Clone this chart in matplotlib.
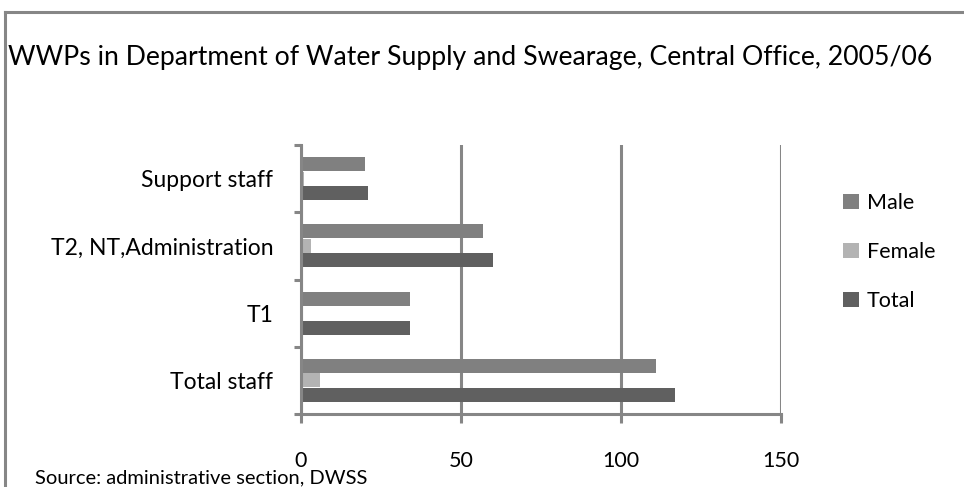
import matplotlib
matplotlib.use("Agg")
import matplotlib.pyplot as plt
from matplotlib.lines import Line2D
import numpy as np

categories = ["Total staff", "T1", "T2, NT,Administration", "Support staff"]
male = [111, 34, 57, 20]
female = [6, 0, 3, 1]
total = [117, 34, 60, 21]
series_names = ["Male", "Female", "Total"]
colors = ["#808080", "#b3b3b3", "#606060"]
xticks = [0, 50, 100, 150]

plt.rcParams['font.family'] = ['Lato', 'DejaVu Sans']

W, H = 964, 487
fig = plt.figure(figsize=(W / 100, H / 100), dpi=100)
ax = fig.add_axes([301 / W, 1 - 414 / H, 480 / W, 269 / H])

y = np.arange(len(categories))
bh = 0.21
off = 0.215
ax.barh(y + off, male, height=bh, color=colors[0], label=series_names[0])
ax.barh(y, female, height=bh, color=colors[1], label=series_names[1])
ax.barh(y - off, total, height=bh, color=colors[2], label=series_names[2])

ax.set_xlim(0, 150)
ax.set_ylim(-0.5, len(categories) - 0.5)
grey = "#868686"
for s in ["top", "right"]:
    ax.spines[s].set_visible(False)
for s in ["left", "bottom"]:
    ax.spines[s].set_color(grey)
    ax.spines[s].set_linewidth(2.2)

ax.set_xticks(xticks)
ax.set_xticklabels([str(t) for t in xticks])
ax.tick_params(axis="x", length=6.5, width=2.2, color=grey, pad=20, labelsize=15.5)
ax.xaxis.grid(True, color=grey, linewidth=2.2)
ax.set_axisbelow(True)

ax.set_yticks(np.arange(-0.5, len(categories), 1.0))
ax.set_yticklabels([])
ax.set_yticks(y, minor=True)
ax.set_yticklabels(categories, minor=True)
ax.tick_params(axis="y", which="major", length=5, width=2.2, color=grey)
ax.tick_params(axis="y", which="minor", length=0, pad=20, labelsize=16.5)

fig.text(8 / W, 1 - 58 / H, "WWPs in Department of Water Supply and Swearage, Central Office, 2005/06",
         ha="left", va="center", fontsize=19.2)
fig.text(35 / W, 1 - 486 / H, "Source: administrative section, DWSS",
         ha="left", va="bottom", fontsize=14.5)

leg = fig.legend(loc="center left", bbox_to_anchor=(843 / W, 1 - 252 / H), frameon=False,
                 fontsize=15.5, handlelength=0.75, handleheight=0.75, handletextpad=0.35,
                 labelspacing=1.35, borderaxespad=0, borderpad=0)

fig.add_artist(Line2D([5 / W, 1], [1 - 12 / H, 1 - 12 / H], transform=fig.transFigure,
                      color=grey, linewidth=2.2))
fig.add_artist(Line2D([5 / W, 5 / W], [0, 1 - 12 / H], transform=fig.transFigure,
                      color=grey, linewidth=2.2))

fig.savefig("out.png", dpi=100)
